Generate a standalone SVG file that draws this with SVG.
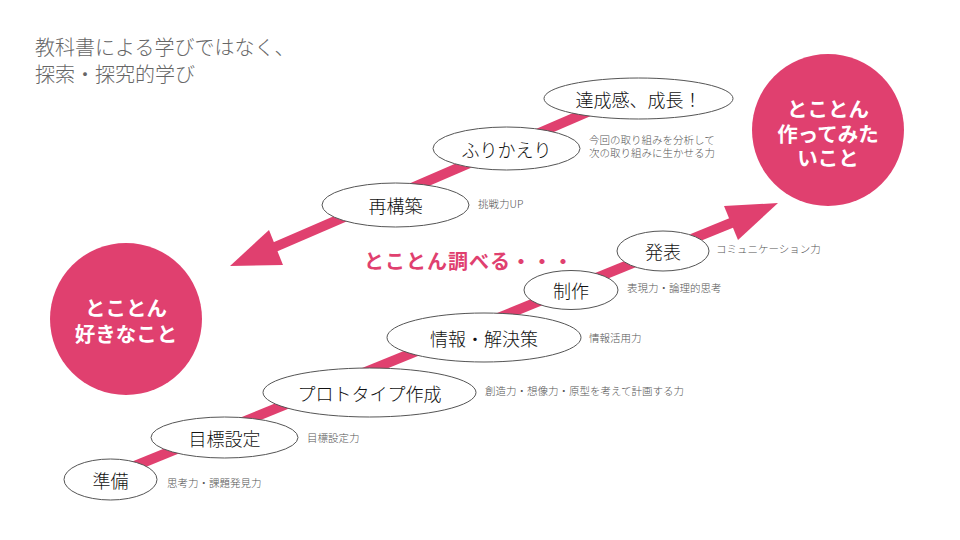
<svg xmlns="http://www.w3.org/2000/svg" width="960" height="540" viewBox="0 0 960 540">
<style>
text{font-family:"Noto Sans CJK JP","Noto Sans",sans-serif}
.title{font-size:20px;fill:#666;font-weight:300}
.step{fill:#fff;stroke:#555;stroke-width:1}
.lbl{font-size:18px;fill:#111;text-anchor:middle;dominant-baseline:central;font-weight:300}
.note{font-size:10.5px;fill:#555;font-weight:300}
.big{fill:#E0406F}
.bigt{font-size:20.5px;fill:#fff;font-weight:bold;text-anchor:middle;dominant-baseline:central}
.pink{fill:#E0406F}
.line{stroke:#E0406F;stroke-width:10;fill:none}
</style>
<rect width="960" height="540" fill="#fff"/>
<text class="title" x="35" y="55">教科書による学びではなく、</text>
<text class="title" x="35" y="82">探索・探究的学び</text>

<g id="connectors">
<line class="line" x1="590" y1="111" x2="268" y2="250"/>
<polygon class="pink" points="230,266 269,230 283,265"/>
<line class="line" x1="120" y1="472" x2="736" y2="221"/>
<polygon class="pink" points="778,203 724,206 738,240"/>
</g>

<g id="circle-left">
<circle class="big" cx="126" cy="319" r="76"/>
<text class="bigt" x="126" y="307">とことん</text>
<text class="bigt" x="126" y="333">好きなこと</text>
</g>
<g id="circle-right">
<circle class="big" cx="828" cy="130" r="76"/>
<text class="bigt" x="828" y="108">とことん</text>
<text class="bigt" x="828" y="133">作ってみた</text>
<text class="bigt" x="828" y="157">いこと</text>
</g>

<text id="shiraberu" x="364" y="269" font-size="20" font-weight="bold" fill="#E0406F" letter-spacing="1">とことん調べる・・・</text>

<g id="step-tassei">
<ellipse class="step" cx="638.5" cy="98.5" rx="94.5" ry="20.5"/>
<text class="lbl" x="638.5" y="98.5">達成感、成長！</text>
</g>
<g id="step-furikaeri">
<ellipse class="step" cx="506.5" cy="148.5" rx="73.5" ry="21.5"/>
<text class="lbl" x="506.5" y="148.5">ふりかえり</text>
<text class="note" x="589" y="144">今回の取り組みを分析して</text>
<text class="note" x="589" y="157">次の取り組みに生かせる力</text>
</g>
<g id="step-saikouchiku">
<ellipse class="step" cx="395.5" cy="205" rx="73.5" ry="22"/>
<text class="lbl" x="395.5" y="205">再構築</text>
<text class="note" x="478" y="208">挑戦力UP</text>
</g>
<g id="step-happyou">
<ellipse class="step" cx="663" cy="251" rx="46" ry="20"/>
<text class="lbl" x="663" y="251">発表</text>
<text class="note" x="716" y="253">コミュニケーション力</text>
</g>
<g id="step-seisaku">
<ellipse class="step" cx="571" cy="290" rx="47" ry="19.5"/>
<text class="lbl" x="571" y="290">制作</text>
<text class="note" x="627" y="292">表現力・論理的思考</text>
</g>
<g id="step-jouhou">
<ellipse class="step" cx="484" cy="337.5" rx="97" ry="24.5"/>
<text class="lbl" x="484" y="337.5">情報・解決策</text>
<text class="note" x="589" y="342">情報活用力</text>
</g>
<g id="step-prototype">
<ellipse class="step" cx="369.5" cy="392.5" rx="106.5" ry="24.5"/>
<text class="lbl" x="369.5" y="392.5">プロトタイプ作成</text>
<text class="note" x="485" y="395">創造力・想像力・原型を考えて計画する力</text>
</g>
<g id="step-mokuhyou">
<ellipse class="step" cx="224.5" cy="437.5" rx="73.5" ry="20.5"/>
<text class="lbl" x="224.5" y="437.5">目標設定</text>
<text class="note" x="307" y="442">目標設定力</text>
</g>
<g id="step-junbi">
<ellipse class="step" cx="110.5" cy="479.5" rx="46.5" ry="20.5"/>
<text class="lbl" x="110.5" y="479.5">準備</text>
<text class="note" x="167" y="487">思考力・課題発見力</text>
</g>
</svg>
